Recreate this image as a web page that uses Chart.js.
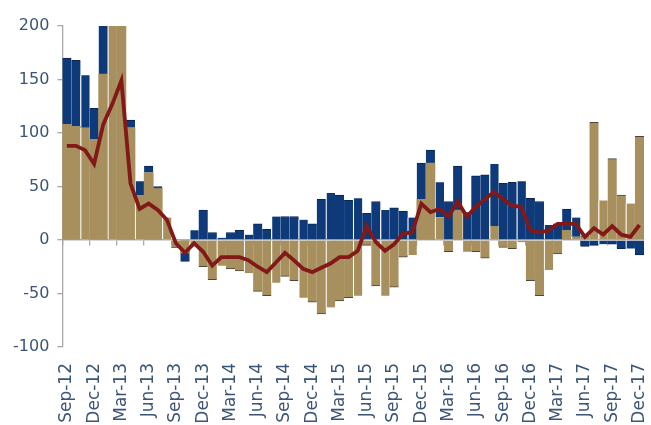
<!DOCTYPE html>
<html>
<head>
<meta charset="utf-8">
<script src="https://cdn.jsdelivr.net/npm/chart.js@4.4.1/dist/chart.umd.min.js"></script>
<style>
  html, body { margin: 0; padding: 0; background: #ffffff; }
  #wrap { width: 651px; height: 425px; }
</style>
</head>
<body>
<div id="wrap"><canvas id="chart" width="651" height="425"></canvas></div>
<script>
// Monthly categories, Sep-12 .. Dec-17
const months = [
  'Sep-12','Oct-12','Nov-12','Dec-12','Jan-13','Feb-13','Mar-13','Apr-13','May-13','Jun-13','Jul-13','Aug-13',
  'Sep-13','Oct-13','Nov-13','Dec-13','Jan-14','Feb-14','Mar-14','Apr-14','May-14','Jun-14','Jul-14','Aug-14',
  'Sep-14','Oct-14','Nov-14','Dec-14','Jan-15','Feb-15','Mar-15','Apr-15','May-15','Jun-15','Jul-15','Aug-15',
  'Sep-15','Oct-15','Nov-15','Dec-15','Jan-16','Feb-16','Mar-16','Apr-16','May-16','Jun-16','Jul-16','Aug-16',
  'Sep-16','Oct-16','Nov-16','Dec-16','Jan-17','Feb-17','Mar-17','Apr-17','May-17','Jun-17','Jul-17','Aug-17',
  'Sep-17','Oct-17','Nov-17','Dec-17'
];

// Lower (khaki) bar component
const khakiValues = [
  108, 106, 105, 94, 155, 215, 210, 105, 42, 63, 48, 21,
  -7, -12, -6, -25, -37, -24, -27, -29, -31, -48, -52, -40,
  -34, -38, -54, -58, -69, -63, -57, -54, -52, -5, -43, -52,
  -44, -16, -14, 38, 72, 21, -11, 28, -11, -11, -17, 13,
  -7, -8, -2, -38, -52, -28, -13, 9, 3, 4, 110, 37,
  76, 42, 34, 97
];

// Upper (navy) bar component
const navyValues = [
  62, 62, 49, 29, 60, 10, 10, 7, 13, 6, 2, 0,
  0, -8, 9, 28, 7, 2, 7, 9, 5, 15, 10, 22,
  22, 22, 19, 15, 38, 44, 42, 37, 39, 25, 36, 28,
  30, 27, 21, 34, 12, 33, 36, 41, 26, 60, 61, 58,
  53, 54, 55, 39, 36, 14, 15, 20, 18, -6, -5, -4,
  -4, -8, -8, -14
];

// Line series
const lineValues = [
  88, 88, 84, 71, 108, 127, 149, 53, 29, 34, 28, 19,
  -3, -12, -3, -11, -24, -16, -16, -16, -19, -25, -30, -21,
  -12, -19, -27, -30, -26, -22, -16, -16, -10, 13, -2, -10,
  -4, 6, 7, 34, 26, 29, 22, 36, 22, 31, 38, 45,
  38, 32, 31, 9, 7, 9, 15, 15, 15, 3, 11, 5,
  13, 5, 3, 14
];

const yTicks = [-100, -50, 0, 50, 100, 150, 200];

const TEXT = '#3b5578';
const AXIS = '#a9a9a9';
const KHAKI = '#a78f5e';
const NAVY = '#0f3a7a';
const RED = '#821818';
const SEPARATOR = 'rgba(255,255,255,0.9)';

// Every third column opens with a thin light edge on its left side
const isQuarterEdge = i => i % 3 === 2;

// Khaki: outer end outlined only when navy doesn't sit on top of it
function khakiBorderWidth(ctx) {
  const i = ctx.dataIndex;
  if (isQuarterEdge(i)) return { top: 0, bottom: 0, left: 1.2, right: 0 };
  const a = khakiValues[i], b = navyValues[i];
  const covered = b !== 0 && Math.sign(a) === Math.sign(b);
  return covered ? 0 : { top: 1, bottom: 1, left: 0, right: 0 };
}
function khakiBorderColor(ctx) {
  return isQuarterEdge(ctx.dataIndex) ? SEPARATOR : '#4d4738';
}
function navyBorderWidth(ctx) {
  return isQuarterEdge(ctx.dataIndex)
    ? { top: 0, bottom: 0, left: 1.2, right: 0 }
    : { top: 1, bottom: 1, left: 0, right: 0 };
}
function navyBorderColor(ctx) {
  return isQuarterEdge(ctx.dataIndex) ? SEPARATOR : '#0a2550';
}

new Chart(document.getElementById('chart'), {
  type: 'bar',
  data: {
    labels: months,
    datasets: [
      {
        label: 'khaki',
        data: khakiValues,
        backgroundColor: KHAKI,
        borderColor: khakiBorderColor,
        borderWidth: khakiBorderWidth,
        borderSkipped: 'start',
        barPercentage: 1,
        categoryPercentage: 1,
        order: 1
      },
      {
        label: 'navy',
        data: navyValues,
        backgroundColor: NAVY,
        borderColor: navyBorderColor,
        borderWidth: navyBorderWidth,
        borderSkipped: 'start',
        barPercentage: 1,
        categoryPercentage: 1,
        order: 1
      },
      {
        type: 'line',
        label: 'line',
        data: lineValues,
        borderColor: RED,
        borderWidth: 3.8,
        pointRadius: 0,
        tension: 0,
        fill: false,
        order: 0
      }
    ]
  },
  options: {
    responsive: false,
    animation: false,
    layout: { padding: { left: 5, top: 26, right: 7, bottom: 0 } },
    plugins: { legend: { display: false }, tooltip: { enabled: false } },
    scales: {
      x: {
        stacked: true,
        offset: true,
        grid: { display: false, drawTicks: false },
        border: { display: false },
        afterFit: s => { s.height = 78; s.paddingRight = 0; s.paddingLeft = 0; },
        ticks: {
          autoSkip: false,
          minRotation: 90,
          maxRotation: 90,
          padding: 16,
          color: TEXT,
          font: { family: 'DejaVu Sans', size: 17 },
          callback: (v, i) => (i % 3 === 0 ? months[i] : '')
        }
      },
      xZero: {
        type: 'category',
        position: { y: 0 },
        offset: true,
        z: 1,
        grid: {
          display: true,
          offset: true,
          drawOnChartArea: false,
          drawTicks: true,
          tickLength: 5,
          lineWidth: 1.3,
          color: c => (c.index % 3 === 0 ? AXIS : 'rgba(0,0,0,0)')
        },
        border: { display: true, color: '#b3b0a8', width: 1.5 },
        ticks: { display: false }
      },
      y: {
        stacked: true,
        min: yTicks[0],
        max: yTicks[yTicks.length - 1],
        afterBuildTicks: s => { s.ticks = yTicks.map(v => ({ value: v })); },
        grid: { drawOnChartArea: false, drawTicks: true, tickLength: 5, color: AXIS, lineWidth: 1.3 },
        border: { color: AXIS, width: 1.3 },
        ticks: {
          padding: 8,
          color: TEXT,
          font: { family: 'DejaVu Sans', size: 16 }
        }
      }
    }
  }
});
</script>
</body>
</html>
